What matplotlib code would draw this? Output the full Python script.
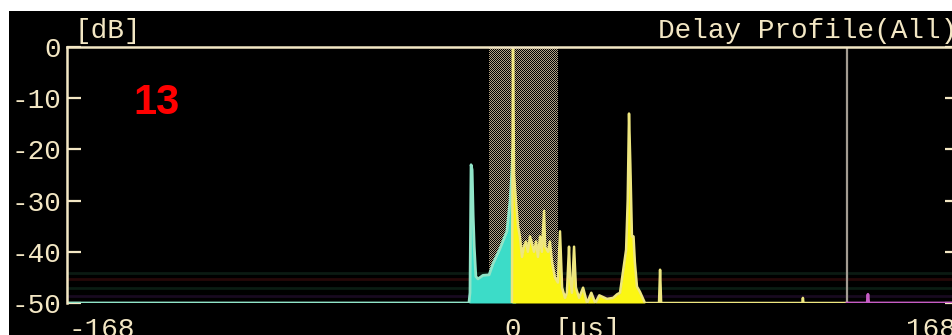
import numpy as np
import matplotlib.pyplot as plt
from matplotlib.colors import ListedColormap
from matplotlib.patches import Rectangle

plt.rcParams['axes.unicode_minus'] = False
plt.rcParams['font.family'] = ['Liberation Mono', 'DejaVu Sans Mono']

# delay profile screen, delay in us, level in dB
delay_span = [-168, 168]
level_ticks = [0, -10, -20, -30, -40, -50]
level_labels = ['0', '-10', '-20', '-30', '-40', '-50']
delay_labels = ['-168', '0', '168']

# guard window and delay marker
window = [-9.0, 16.9]
marker_delay = 125.8

# faint threshold lines near the floor
thresholds = [-44.2, -45.4, -47.0, -48.7]
threshold_colors = ['#0b1a12', '#260808', '#0a1c12', '#180a20']

# branch 1 (cyan)
cyan_delay = [-168, -16.6, -16.2, -15.8, -15.4, -15.0, -14.6, -14.0, -13.2,
              -12.4, -11.3, -9.0, -7.5, -5.0, -2.3, -1.1, -0.4, 0.0, 0.4, 1.0]
cyan_level = [-50, -50, -48, -23, -24, -33, -39, -44.8, -45.3,
              -45.0, -44.6, -44.5, -42.3, -39.5, -36, -30, -24, -20, -31, -50]

# branch 2 (yellow)
yellow_delay = [-0.4, 0.0, 0.4, 1.1, 1.9, 2.6, 3.4, 4.1, 4.9, 5.6, 6.4, 7.2,
                7.9, 8.7, 9.4, 10.2, 10.9, 11.7, 12.1, 13.2, 13.9, 14.7,
                15.8, 16.9, 17.7, 18.5, 19.6, 20.3, 21.1, 21.5, 22.2, 23.0,
                23.7, 24.9, 26.4, 27.9, 29.5, 31.0, 32.5, 35.4, 37.7, 39.2,
                40.3, 41.4, 42.6, 43.2, 43.7, 44.2, 44.8, 45.4, 45.9, 46.7,
                47.8, 49.7, 55.0, 55.4, 55.8, 109.0, 109.2, 109.4, 125.8]
yellow_level = [-50, 0, -25, -30, -35, -37, -41, -39, -38, -40, -37, -38.5,
                -40, -38, -41, -37, -40, -32, -39, -40, -38, -42,
                -45, -46, -36, -47, -49, -48, -39, -45, -48, -39,
                -47, -49, -47, -50, -48, -50, -48.5, -49.2, -49, -48.3,
                -48, -44, -39.6, -30, -13, -23, -37, -37, -42, -46.8,
                -47.8, -50, -50, -43.5, -50, -50, -49, -50, -50]

# branch 3 (magenta)
magenta_delay = [125.8, 133.4, 133.7, 134.0, 168]
magenta_level = [-50, -50, -48.3, -50, -50]

fig = plt.figure(figsize=(9.53, 3.35), dpi=100, facecolor='white')
fig.patches.append(Rectangle((9 / 953, 0), 1, 1 - 11 / 335, transform=fig.transFigure,
                             facecolor='black', edgecolor='none', zorder=-10))

ax = fig.add_axes([67 / 953, 32 / 335, 892 / 953, 256 / 335])
ax.set_facecolor('black')
ax.set_xlim(delay_span)
ax.set_ylim(-50, 0)

cream = '#f3e7c4'

for lev, col in zip(thresholds, threshold_colors):
    ax.axhline(lev, color=col, lw=2, zorder=1)

# guard window drawn as a 1 px checker
nx = int(round((window[1] - window[0]) / (delay_span[1] - delay_span[0]) * 892))
ny = 256
checker = (np.indices((ny, nx)).sum(axis=0) % 2).astype(float)
ax.imshow(checker, extent=(window[0], window[1], -50, 0), aspect='auto',
          cmap=ListedColormap(['#000000', '#b4a486']),
          interpolation='nearest', zorder=2)

ax.axvline(marker_delay, color='#a39c92', lw=1.6, zorder=3)

ax.fill_between(cyan_delay, cyan_level, -50, color='#3cdcc8', lw=0, zorder=4)
ax.plot(cyan_delay, cyan_level, color='#90e4c8', lw=2, zorder=5)

# fill the dense paths, the isolated echoes stay as plain lines
yd = np.array(yellow_delay)
ax.fill_between(yd, yellow_level, -50, where=yd < 50, color='#fbf614', lw=0, zorder=6)
ax.plot(yellow_delay, yellow_level, color='#eee680', lw=1.8, zorder=7)

ax.plot(magenta_delay, magenta_level, color='#c65cc4', lw=2, zorder=7)

for s in ['bottom', 'right']:
    ax.spines[s].set_visible(False)
for s in ['left', 'top']:
    ax.spines[s].set_color(cream)
    ax.spines[s].set_linewidth(1.8)
    ax.spines[s].set_zorder(8)

ax.set_yticks(level_ticks)
ax.set_yticklabels(level_labels)
ax.tick_params(axis='y', which='both', direction='in', length=10, width=1.6,
               color=cream, labelcolor=cream, labelsize=20, pad=4,
               left=True, right=True)
ax.set_xticks([])

# delay labels under the floor
ax.annotate(delay_labels[0], xy=(delay_span[0], -50), xytext=(1, -10),
            textcoords='offset points', ha='left', va='top', color=cream, fontsize=20)
ax.annotate(delay_labels[1], xy=(0, -50), xytext=(0, -10),
            textcoords='offset points', ha='center', va='top', color=cream, fontsize=20)
ax.annotate('[μs]', xy=(15.8, -50), xytext=(0, -10),
            textcoords='offset points', ha='left', va='top', color=cream, fontsize=20)
ax.annotate(delay_labels[2], xy=(delay_span[1], -50), xytext=(-2, -10),
            textcoords='offset points', ha='right', va='top', color=cream, fontsize=20)

fig.text(75 / 953, 1 - 38 / 335, '[dB]', ha='left', va='baseline', color=cream, fontsize=20)
fig.text(957 / 953, 1 - 38 / 335, 'Delay Profile(All)', ha='right', va='baseline',
         color=cream, fontsize=20)

fig.text(133 / 953, 1 - 114 / 335, '13', ha='left', va='baseline', color='#ff0000',
         fontsize=30, fontweight='bold', family='Liberation Sans')

fig.savefig('out.png', dpi=100, facecolor=fig.get_facecolor())
